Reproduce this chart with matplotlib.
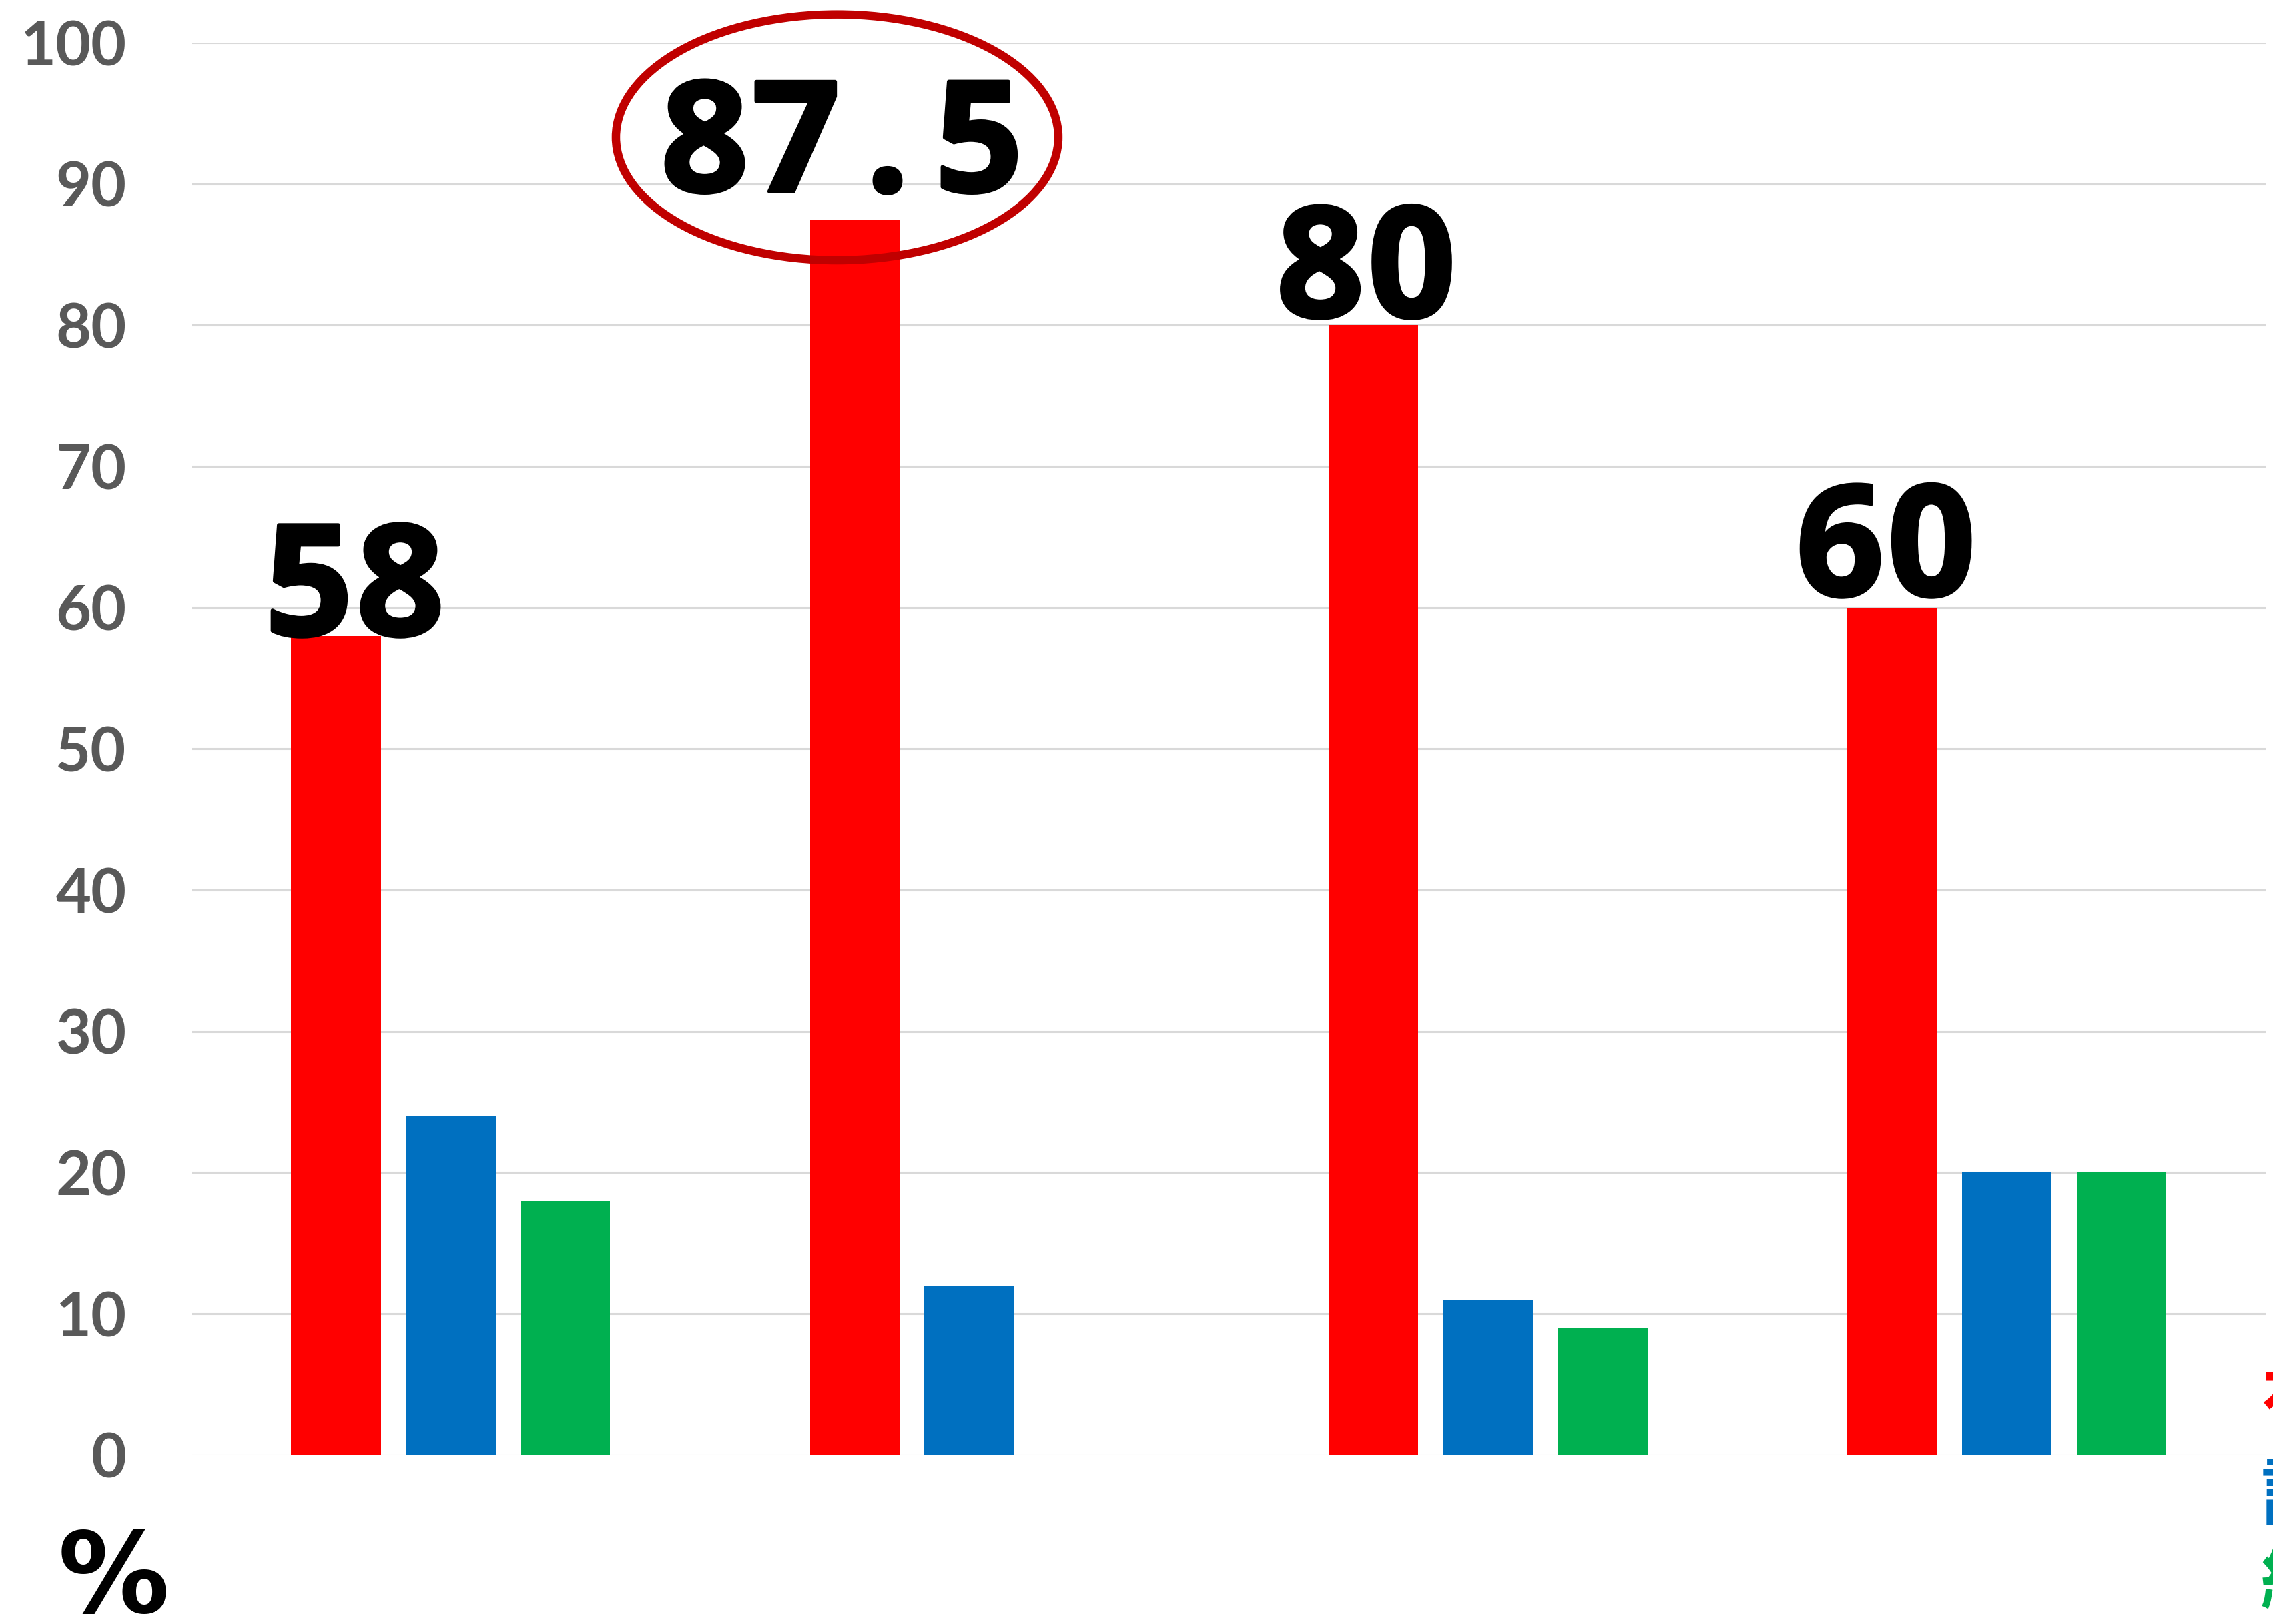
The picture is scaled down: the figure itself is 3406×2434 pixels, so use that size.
#!/usr/bin/env python3
# -*- coding: utf-8 -*-
import numpy as np
import matplotlib
matplotlib.use("Agg")
import matplotlib.pyplot as plt
import matplotlib.patheffects as pe
from matplotlib.patches import Ellipse

groups = ['A', 'B', 'C', 'D']
red_vals = [58, 87.5, 80, 60]
blue_vals = [24, 12, 11, 20]
green_vals = [18, 0, 9, 20]
series_names = ['有効', '評価', '継続']
y_ticks = [0, 10, 20, 30, 40, 50, 60, 70, 80, 90, 100]

colors = ['#FF0000', '#0070C0', '#00B050']
# nudges (points) for the value labels above the red bars
label_dx = [20, -14, -8, -7]
label_dy = [1, 30, 9, 13]
char_pitch = 98.6  # points, fixed advance per character


def draw_label(ax, x, y, text, dx, dy):
    # fixed-pitch label: every character (the dot too) takes one slot
    n = len(text)
    for k, ch in enumerate(text):
        off = dx + (k - (n - 1) / 2.0) * char_pitch
        ax.annotate(ch, (x, y), xytext=(off, dy), textcoords='offset points',
                    ha='center', va='baseline', fontsize=166,
                    fontweight='bold', family='Open Sans', color='black',
                    zorder=5,
                    path_effects=[pe.withStroke(linewidth=4, foreground='black')])


def main():
    fig = plt.figure(figsize=(34.06, 24.34), dpi=100)
    ax = fig.add_axes([0.0842, 0.104, 0.9128, 0.8697])

    x = np.arange(len(groups))
    width = 0.173
    step = 0.221
    for i, vals in enumerate([red_vals, blue_vals, green_vals]):
        ax.bar(x + (i - 1) * step, vals, width, color=colors[i], zorder=3)

    # value labels on the red bars
    for xi, v, dx, dy in zip(x, red_vals, label_dx, label_dy):
        draw_label(ax, xi - step, v, '%g' % v, dx, dy)

    # highlight the top value
    ell = Ellipse((0.745, 93.3), 0.853, 17.4, fill=False, edgecolor='#C00000',
                  linewidth=9, zorder=6, clip_on=False)
    ax.add_patch(ell)

    ax.set_xlim(-0.5, 3.5)
    ax.set_ylim(0, 100)
    ax.set_yticks(y_ticks)
    ax.set_yticklabels([str(t) for t in y_ticks], fontsize=66,
                       fontweight='bold', family='Lato', color='#595959')
    ax.set_xticks([])
    ax.tick_params(axis='y', length=0, pad=70)
    for s in ax.spines.values():
        s.set_visible(False)
    ax.yaxis.grid(True, color='#D9D9D9', linewidth=2.2, zorder=0)
    ax.set_axisbelow(True)

    fig.text(0.050, 0.007, '%', fontsize=120, fontweight='bold',
             family='DejaVu Sans', ha='center', va='baseline')

    # series names at the right edge
    for name, c, yy in zip(series_names, colors, [0.135, 0.078, 0.023]):
        fig.text(0.9947, yy, name, fontsize=80, fontweight='bold', color=c,
                 family=['Noto Sans CJK JP', 'DejaVu Sans'],
                 ha='left', va='center')

    fig.savefig('out.png', dpi=100)
    plt.close(fig)


if __name__ == "__main__":
    main()
